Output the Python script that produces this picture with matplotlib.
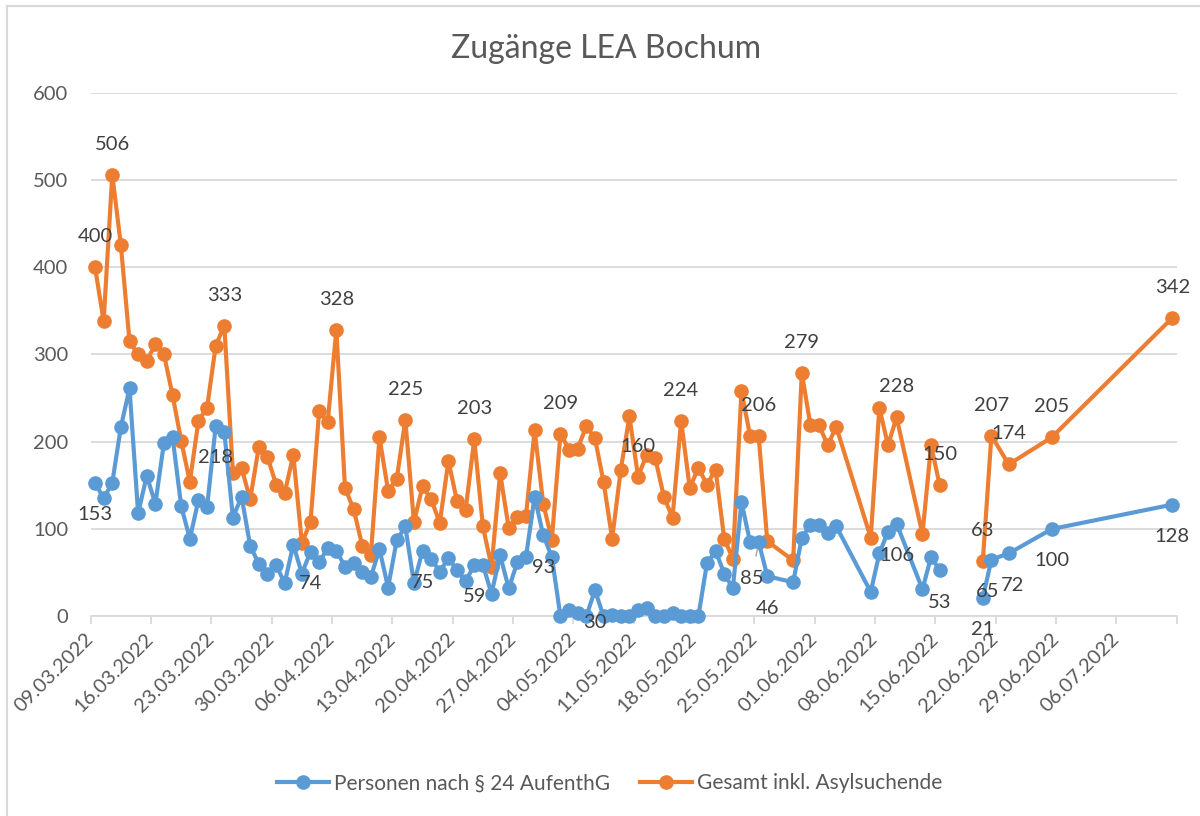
import matplotlib
matplotlib.use("Agg")
import matplotlib.pyplot as plt
import numpy as np
import pandas as pd
from matplotlib.lines import Line2D

plt.rcParams['font.family'] = ['Lato', 'DejaVu Sans']

title = "Zugänge LEA Bochum"
series_names = ["Personen nach § 24 AufenthG", "Gesamt inkl. Asylsuchende"]

# Day offsets (from 09.03.2022) of the reported dates; NaN row = empty cell (gap)
start_date = "09.03.2022"
day_offsets = list(range(0, 79)) + [81, 82, 83, 84, 85, 86, 90, 91, 92, 93,
                                    96, 97, 98, 101, 103, 104, 106, 111, 125]

blue_values = [153, 135, 153, 217, 261, 118, 161, 129, 199, 205,
               126, 89, 133, 125, 218, 211, 113, 137, 81, 60,
               49, 59, 38, 82, 49, 74, 62, 78, 75, 57,
               61, 51, 45, 77, 33, 87, 103, 38, 75, 66,
               51, 67, 53, 40, 59, 59, 26, 70, 32, 62,
               68, 137, 93, 68, 0, 7, 4, 0, 30, 0,
               2, 0, 0, 7, 10, 0, 0, 4, 0, 0,
               0, 61, 75, 49, 32, 131, 85, 85, 46,
               39, 90, 105, 105, 95, 103, 28, 72, 97, 106,
               31, 68, 53, np.nan, 21, 65, 72, 100, 128]

orange_values = [400, 338, 506, 425, 315, 300, 292, 312, 300, 253,
                 201, 154, 224, 239, 310, 333, 164, 170, 134, 194,
                 183, 151, 141, 185, 84, 108, 235, 223, 328, 147,
                 123, 81, 70, 205, 144, 157, 225, 108, 149, 134,
                 107, 178, 132, 122, 203, 103, 57, 164, 101, 114,
                 115, 213, 129, 88, 209, 191, 192, 218, 204, 154,
                 89, 168, 229, 160, 185, 181, 137, 113, 224, 147,
                 170, 151, 168, 89, 66, 258, 207, 206, 86,
                 64, 279, 219, 219, 196, 217, 90, 239, 196, 228,
                 94, 196, 150, np.nan, 63, 207, 174, 205, 342]

# Days whose values carry a data label
orange_label_days = [0, 2, 15, 28, 36, 44, 54, 63, 68, 77, 82, 93, 98, 103, 104, 106, 111, 125]
blue_label_days = [0, 14, 25, 38, 44, 52, 58, 77, 78, 93, 98, 103, 104, 106, 111, 125]

BLUE = "#5B9BD5"
ORANGE = "#ED7D31"
TXT = "#595959"
LBL = "#404040"
GRID = "#D9D9D9"

x = np.array(day_offsets, dtype=float)
b = np.array(blue_values, dtype=float)
o = np.array(orange_values, dtype=float)
d0 = pd.to_datetime(start_date, format="%d.%m.%Y")

fig = plt.figure(figsize=(12, 8.16), dpi=100)
ax = fig.add_axes([0.0756, 0.2447, 0.905, 0.6419])

ax.plot(x, o, color=ORANGE, lw=3.0, marker='o', ms=9.5, zorder=3, clip_on=False,
        label=series_names[1], solid_joinstyle='round')
ax.plot(x, b, color=BLUE, lw=3.0, marker='o', ms=9.5, zorder=4, clip_on=False,
        label=series_names[0], solid_joinstyle='round')

ax.set_ylim(0, 600)
ax.set_xlim(-0.5, 125.5)
ax.set_yticks(np.arange(0, 601, 100))
ax.yaxis.grid(True, color=GRID, lw=1.3)
ax.set_axisbelow(True)
for s in ['top', 'right', 'left']:
    ax.spines[s].set_visible(False)
ax.spines['bottom'].set_color(GRID)
ax.spines['bottom'].set_linewidth(1.3)
ax.spines['bottom'].set_zorder(1)
ax.tick_params(axis='y', length=0, pad=16, labelsize=14.5, labelcolor=TXT)

ticks = [-0.5 + 7 * k for k in range(19)]
labels = [(d0 + pd.Timedelta(days=7 * k)).strftime("%d.%m.%Y") for k in range(18)] + [""]
ax.set_xticks(ticks)
ax.set_xticklabels(labels, rotation=45, ha='right', va='center',
                   rotation_mode='anchor', fontsize=14.5, color=TXT)
ax.tick_params(axis='x', length=6, color=GRID, width=1.3, pad=8)

lookup_o = dict(zip(day_offsets, orange_values))
lookup_b = dict(zip(day_offsets, blue_values))
for dday in orange_label_days:
    v = lookup_o[dday]
    ax.annotate(f"{int(v)}", (dday, v), xytext=(0, 22), textcoords='offset points',
                ha='center', va='center', fontsize=14.5, color=LBL, zorder=6)
blue_dx = {104: -3, 106: 3}
for dday in blue_label_days:
    v = lookup_b[dday]
    if dday == 77:
        ax.annotate(f"{int(v)}", (dday, v), xytext=(-5, -26), textcoords='offset points',
                    ha='center', va='center', fontsize=14.5, color=LBL, zorder=6,
                    arrowprops=dict(arrowstyle='-', color='#A6A6A6', lw=1,
                                    shrinkA=8, shrinkB=5))
    else:
        ax.annotate(f"{int(v)}", (dday, v), xytext=(blue_dx.get(dday, 0), -23),
                    textcoords='offset points',
                    ha='center', va='center', fontsize=14.5, color=LBL, zorder=6)

fig.suptitle(title, x=0.505, y=0.958, fontsize=23, color=TXT)

handles = [Line2D([], [], color=BLUE, lw=3.0, marker='o', ms=9.5),
           Line2D([], [], color=ORANGE, lw=3.0, marker='o', ms=9.5)]
fig.legend(handles, series_names, loc='center', bbox_to_anchor=(0.508, 0.04),
           ncol=2, frameon=False, fontsize=15, labelcolor=TXT,
           handlelength=2.5, handletextpad=0.25, columnspacing=1.4)

# chart border
fig.add_artist(Line2D([7 / 1200, 7 / 1200], [0, 1 - 6 / 816], transform=fig.transFigure,
                      color=GRID, lw=1.5))
fig.add_artist(Line2D([7 / 1200, 1], [1 - 6 / 816, 1 - 6 / 816], transform=fig.transFigure,
                      color=GRID, lw=1.5))

fig.savefig("out.png", dpi=100)
